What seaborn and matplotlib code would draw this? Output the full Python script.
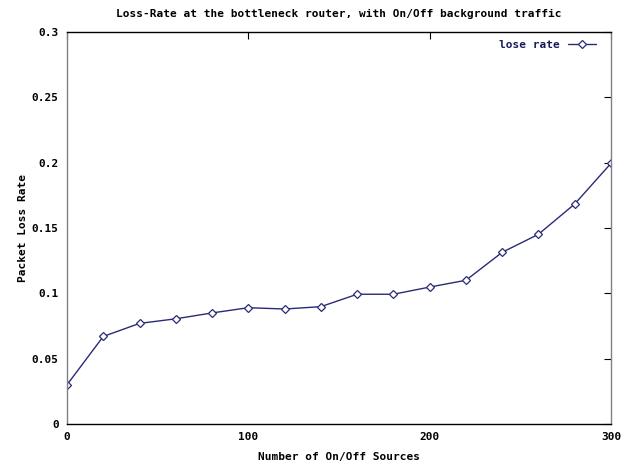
import matplotlib
matplotlib.use("Agg")
import matplotlib.pyplot as plt
import seaborn as sns
import pandas as pd

sources = [0, 20, 40, 60, 80, 100, 120, 140, 160, 180, 200, 220, 240, 260, 280, 300]
loss_rate = [0.030, 0.067, 0.077, 0.0805, 0.085, 0.089, 0.088, 0.0898, 0.0993, 0.0993,
             0.1048, 0.110, 0.1314, 0.1452, 0.1684, 0.1995]
x_ticks = [0, 100, 200, 300]
y_ticks = [0, 0.05, 0.1, 0.15, 0.2, 0.25, 0.3]
y_tick_labels = ["0", "0.05", "0.1", "0.15", "0.2", "0.25", "0.3"]

sns.set_style("white")
plt.rcParams['font.family'] = ['DejaVu Sans Mono']
plt.rcParams['font.weight'] = 'bold'
plt.rcParams['text.color'] = 'black'
plt.rcParams['axes.labelcolor'] = 'black'

df = pd.DataFrame({"sources": sources, "loss": loss_rate})

fig = plt.figure(figsize=(6.31, 4.65), dpi=100)
ax = fig.add_axes([67/631, 41/465, 544/631, 392/465])

line_color = "#2a2a78"
sns.lineplot(data=df, x="sources", y="loss", ax=ax, color=line_color, linewidth=1.0,
             marker="D", markersize=4.5, markerfacecolor="white", markeredgecolor=line_color,
             markeredgewidth=0.9, label="lose rate")

ax.set_xlim(0, 300)
ax.set_ylim(0, 0.3)
ax.set_xticks(x_ticks)
ax.set_xticklabels([str(v) for v in x_ticks])
ax.set_yticks(y_ticks)
ax.set_yticklabels(y_tick_labels)
ax.tick_params(direction="in", length=5, width=0.8, top=True, right=True,
               labelsize=8, colors="black", pad=6)
for lab in ax.get_xticklabels() + ax.get_yticklabels():
    lab.set_fontweight("bold")
for side in ["left", "right", "top", "bottom"]:
    ax.spines[side].set_visible(True)
    ax.spines[side].set_linewidth(1.0)
ax.spines["left"].set_color("#808080")
ax.spines["right"].set_color("#808080")
ax.spines["top"].set_color("black")
ax.spines["bottom"].set_color("black")

ax.set_xlabel("Number of On/Off Sources", fontsize=8, fontweight="bold", labelpad=7,
              color="black")
ax.set_ylabel("Packet Loss Rate", fontsize=8, fontweight="bold", labelpad=3,
              color="black")
ax.set_title("Loss-Rate at the bottleneck router, with On/Off background traffic",
             fontsize=8, fontweight="bold", pad=11, color="black")

leg = ax.legend(loc="upper right", frameon=False, markerfirst=False, fontsize=8,
                handlelength=2.5, borderaxespad=0.3, bbox_to_anchor=(1 - 7/544, 1.0))
for t in leg.get_texts():
    t.set_color("#1a1a5e")
    t.set_fontweight("bold")

fig.savefig("out.png", dpi=100)
